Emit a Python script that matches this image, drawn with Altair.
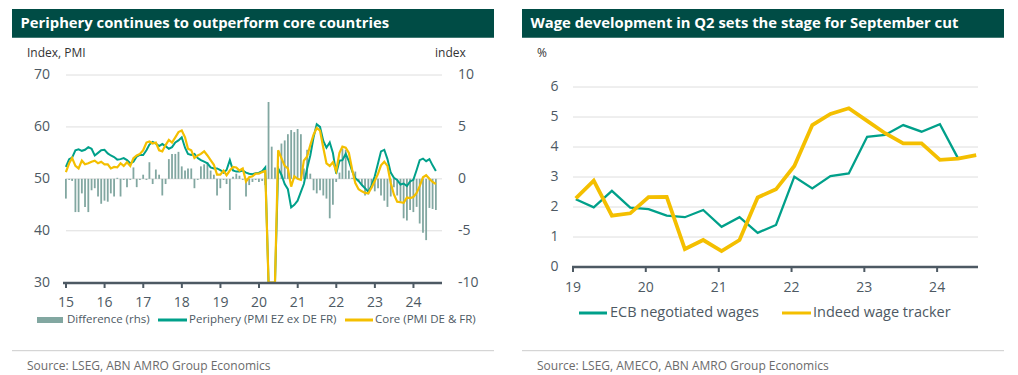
import altair as alt
import pandas as pd

# ---------------- data: left panel (monthly, plotted at month end) ----------------
periphery = [
    52.3, 53.8, 54.1, 55.5, 55.7, 55.4, 55.6, 56.1, 55.8, 54.5, 55.0, 55.5,
    55.6, 54.9, 54.5, 54.2, 53.7, 53.8, 54.0, 53.6, 53.0, 53.3, 54.3, 54.6,
    54.6, 55.5, 56.6, 57.1, 56.8, 56.3, 56.7, 56.3, 55.8, 56.1, 57.0, 57.4,
    58.0, 56.0, 54.8, 54.6, 54.8, 54.0, 53.6, 53.3, 53.0, 52.2, 52.0, 52.0,
    51.7, 51.2, 51.7, 53.6, 51.6, 51.4, 51.4, 51.6, 51.2, 51.0, 50.9, 51.1,
    51.2, 51.5, 52.2, 22.0, 12.0, 29.0, 52.0, 50.8, 49.0, 48.0, 44.5, 45.0,
    45.8, 47.5, 49.0, 52.0, 54.5, 58.0, 60.5, 60.0, 57.3, 56.0, 57.0, 55.0,
    51.0, 53.5, 53.6, 54.8, 53.4, 51.5, 50.1, 49.6, 48.8, 48.2, 47.5, 48.7,
    50.5, 53.0, 55.3, 55.6, 53.8, 51.2, 50.2, 49.8, 48.9, 49.1, 48.6, 49.5,
    49.8, 51.7, 53.6, 53.9, 53.4, 53.8, 52.6, 51.5,
]
core = [
    51.3, 53.0, 54.0, 52.5, 52.0, 53.5, 52.8, 53.0, 53.3, 53.5, 53.0, 53.3,
    52.8, 52.8, 52.0, 52.3, 52.2, 53.0, 52.5, 53.2, 52.5, 54.0, 54.5, 54.8,
    55.5, 57.0, 57.2, 56.8, 57.0, 55.5, 55.3, 56.5, 57.5, 57.0, 58.0, 59.0,
    59.3, 58.0, 55.8, 55.5, 54.0, 54.5, 54.8, 55.3, 54.5, 53.6, 52.7, 50.8,
    50.8, 51.6, 50.7, 51.6, 52.3, 52.2, 51.6, 52.0, 49.5, 50.3, 50.5, 51.0,
    51.0, 51.3, 51.5, 29.5, 14.0, 28.0, 55.5, 54.0, 52.5, 52.0, 48.5, 50.5,
    50.0, 49.8, 53.5, 54.3, 56.5, 58.5, 59.8, 59.3, 56.0, 53.0, 52.5, 53.2,
    51.5, 55.0, 56.2, 56.0, 55.0, 51.8, 49.2, 48.0, 47.6, 47.3, 47.2, 48.3,
    49.6, 51.0, 52.6, 53.3, 52.5, 49.2, 47.0, 45.6, 45.5, 45.4, 46.4, 46.3,
    46.5, 47.3, 48.6, 50.3, 50.7, 50.0, 49.4, 49.0,
]
difference = [
    -1.9, -0.1, -0.2, -3.2, -3.2, -1.4, -2.7, -3.2, -1.1, -0.9, -1.7, -2.4,
    -2.1, -2.2, -1.4, -1.7, 0.1, -1.7, -0.1, -0.8, -0.1, 1.1, -0.8, -0.1,
    0.4, -0.1, 1.6, -0.5, 0.9, 0.4, -1.6, -0.5, 1.9, 2.4, 2.4, 2.6,
    1.2, 0.8, 1.0, 1.0, -0.9, -0.1, 1.2, 1.4, 1.6, 0.8, 0.4, -1.6,
    -0.9, -0.1, -0.5, -3.0, 0.2, 0.5, 0.3, -0.1, -1.7, -0.6, -0.3, -0.1,
    -0.3, -0.2, -0.6, 7.4, 3.1, 1.1, 1.2, 3.4, 3.7, 4.3, 4.7, 4.5,
    4.8, 4.3, 1.0, 2.8, 0.5, -1.1, -1.4, -1.1, -1.6, -1.9, -3.8, -2.5,
    -0.3, 0.6, 2.9, 2.8, 0.8, 0.1, 0.7, -0.3, -0.6, -1.6, -1.5, -0.9,
    -1.2, -0.9, -1.6, -2.1, -2.7, -1.7, -0.8, -1.6, -2.2, -3.8, -4.0, -3.0,
    -3.2, -2.7, -4.3, -5.2, -5.9, -2.8, -2.9, -3.0,
]
pmi_first_month_end = "2014-12-31"
pmi_left_ticks = [30, 40, 50, 60, 70]
pmi_right_ticks = [-10, -5, 0, 5, 10]
pmi_years = list(range(2015, 2025))

# ---------------- data: right panel (quarterly) ----------------
ecb_negotiated = [2.26, 1.99, 2.54, 1.98, 1.93, 1.71, 1.66, 1.90, 1.34, 1.66, 1.14,
                  1.40, 3.01, 2.62, 3.03, 3.12, 4.34, 4.40, 4.73, 4.51, 4.76, 3.62]
indeed_tracker = [2.29, 2.88, 1.71, 1.79, 2.33, 2.34, 0.60, 0.90, 0.53, 0.90, 2.32,
                  2.59, 3.37, 4.73, 5.10, 5.29, 4.87, 4.46, 4.12, 4.12, 3.57, 3.61, 3.73]
wage_first_date = "2019-01-15"
wage_ticks = [0, 1, 2, 3, 4, 5, 6]
wage_years = list(range(2019, 2025))

# ---------------- styling ----------------
TEAL = "#00a08a"
YELLOW = "#f4bf00"
BAR = "#82a7a1"
BANNER = "#004c45"
AXIS = "#4d5963"
GRID = "#dedede"
TXT = "#4d5963"
SRC = "#6b6b6b"
FONT = "Open Sans"

# ---------------- frames ----------------
pmi_dates = pd.date_range(pmi_first_month_end, periods=len(periphery),
                          freq=pd.offsets.MonthEnd()).strftime("%Y-%m-%d")
pmi = pd.DataFrame({"date": pmi_dates, "periphery": periphery, "core": core,
                    "difference": difference})
wage_dates = pd.date_range(wage_first_date, periods=len(indeed_tracker),
                           freq=pd.DateOffset(months=3)).strftime("%Y-%m-%d")
ecb = pd.DataFrame({"date": wage_dates[:len(ecb_negotiated)], "v": ecb_negotiated})
indeed = pd.DataFrame({"date": wage_dates, "v": indeed_tracker})
pmi_year_df = pd.DataFrame({"date": [f"{y}-01-01" for y in pmi_years],
                            "lab": [str(y)[2:] for y in pmi_years]})
wage_year_df = pd.DataFrame({"date": [f"{y}-01-01" for y in wage_years],
                             "lab": [str(y)[2:] for y in wage_years]})
left_tick_df = pd.DataFrame({"v": pmi_left_ticks, "lab": [str(v) for v in pmi_left_ticks]})
right_tick_df = pd.DataFrame({"v": pmi_right_ticks, "lab": [str(v) for v in pmi_right_ticks]})
wage_tick_df = pd.DataFrame({"v": wage_ticks, "lab": [str(v) for v in wage_ticks]})
one = pd.DataFrame({"k": [0]})


def dt(y, m, d):
    return alt.DateTime(year=y, month=m, date=d, utc=True)


xL = alt.Scale(type="utc", domain=[dt(2015, 1, 1), dt(2024, 9, 27)], range=[66, 442], nice=False)
yL = alt.Scale(domain=[30, 70], range=[282.7, 75], clamp=True, nice=False, zero=False)
yR = alt.Scale(domain=[-10, 10], range=[282.7, 75], nice=False, zero=False)
xW = alt.Scale(type="utc", domain=[dt(2019, 1, 1), dt(2024, 7, 24)], range=[573, 978], nice=False)
yW = alt.Scale(domain=[0, 6], range=[267, 87], nice=False, zero=False)


def XD(scale):
    return alt.X("date:T", scale=scale, axis=None)


def box(x1, x2, y1, y2, color):
    return alt.Chart(one).mark_rect(color=color).encode(
        x=alt.value(x1), x2=alt.value(x2), y=alt.value(y1), y2=alt.value(y2))


def hline(x1, x2, y, color, w):
    return alt.Chart(one).mark_rule(color=color, strokeWidth=w).encode(
        x=alt.value(x1), x2=alt.value(x2), y=alt.value(y))


def label(x, y, text, size, color, weight="normal", align="left"):
    return alt.Chart(one).mark_text(align=align, baseline="middle", fontSize=size,
                                    font=FONT, fontWeight=weight, color=color).encode(
        x=alt.value(x), y=alt.value(y), text=alt.value(text))


layers = []

# ---------- left panel ----------
layers += [
    box(12, 494, 9, 37.7, BANNER),
    label(20.5, 24, "Periphery continues to outperform core countries", 14.8, "white", "bold"),
    label(27, 53, "Index, PMI", 12, "#333333"),
    label(435, 53, "index", 12, "#333333"),
    alt.Chart(pd.DataFrame({"v": pmi_left_ticks[1:]})).mark_rule(color=GRID, strokeWidth=1).encode(
        y=alt.Y("v:Q", scale=yL, axis=None), x=alt.value(66), x2=alt.value(442)),
    alt.Chart(pmi).mark_rule(color=BAR, strokeWidth=1.8).encode(
        x=XD(xL), y=alt.Y("difference:Q", scale=yR, axis=None), y2=alt.datum(0)),
    alt.Chart(pmi).mark_line(color=TEAL, strokeWidth=2).encode(
        x=XD(xL), y=alt.Y("periphery:Q", scale=yL, axis=None)),
    alt.Chart(pmi).mark_line(color=YELLOW, strokeWidth=2.2).encode(
        x=XD(xL), y=alt.Y("core:Q", scale=yL, axis=None)),
    hline(63, 442, 283, AXIS, 2.5),
    alt.Chart(pmi_year_df).mark_rule(color=AXIS, strokeWidth=2).encode(
        x=XD(xL), y=alt.value(283), y2=alt.value(288)),
    alt.Chart(pmi_year_df).mark_text(align="center", baseline="middle", fontSize=14,
                                     font=FONT, color=TXT).encode(
        x=XD(xL), y=alt.value(303), text="lab:N"),
    alt.Chart(left_tick_df).mark_text(
        align="right", baseline="middle", fontSize=14, font=FONT, color=TXT).encode(
        y=alt.Y("v:Q", scale=yL, axis=None), x=alt.value(50), text="lab:N"),
    alt.Chart(right_tick_df).mark_text(
        align="left", baseline="middle", fontSize=14, font=FONT, color=TXT).encode(
        y=alt.Y("v:Q", scale=yR, axis=None), x=alt.value(458), text="lab:N"),
    # legend
    box(37, 63, 317, 323, BAR),
    label(67, 320, "Difference (rhs)", 11.5, TXT),
    hline(158, 187, 320, TEAL, 3),
    label(189, 320, "Periphery (PMI EZ ex DE FR)", 11.5, TXT),
    hline(345, 373, 320, YELLOW, 3),
    label(375, 320, "Core (PMI DE & FR)", 11.5, TXT),
    hline(12, 494, 350.7, "#cccccc", 1),
    label(27, 366, "Source: LSEG, ABN AMRO Group Economics", 12, SRC),
]

# ---------- right panel ----------
layers += [
    box(522, 1004, 9, 37.7, BANNER),
    label(530.5, 24, "Wage development in Q2 sets the stage for September cut", 14.8, "white", "bold"),
    label(537, 53, "%", 12, "#333333"),
    alt.Chart(pd.DataFrame({"v": wage_ticks[1:]})).mark_rule(color=GRID, strokeWidth=1).encode(
        y=alt.Y("v:Q", scale=yW, axis=None), x=alt.value(573), x2=alt.value(978)),
    alt.Chart(ecb).mark_line(color=TEAL, strokeWidth=2.3).encode(
        x=XD(xW), y=alt.Y("v:Q", scale=yW, axis=None)),
    alt.Chart(indeed).mark_line(color=YELLOW, strokeWidth=3.8).encode(
        x=XD(xW), y=alt.Y("v:Q", scale=yW, axis=None)),
    hline(572, 978, 267, AXIS, 2.5),
    alt.Chart(wage_year_df).mark_rule(color=AXIS, strokeWidth=2).encode(
        x=XD(xW), y=alt.value(267), y2=alt.value(272)),
    alt.Chart(wage_year_df).mark_text(align="center", baseline="middle", fontSize=14,
                                      font=FONT, color=TXT).encode(
        x=XD(xW), y=alt.value(288), text="lab:N"),
    alt.Chart(wage_tick_df).mark_text(
        align="right", baseline="middle", fontSize=14, font=FONT, color=TXT).encode(
        y=alt.Y("v:Q", scale=yW, axis=None), x=alt.value(558.5), text="lab:N"),
    hline(579, 607, 313, TEAL, 3),
    label(610, 313, "ECB negotiated wages", 14.5, TXT),
    hline(782, 811, 313, YELLOW, 3),
    label(813, 313, "Indeed wage tracker", 14.5, TXT),
    hline(522, 1004, 350.7, "#cccccc", 1),
    label(537, 366, "Source: LSEG, AMECO, ABN AMRO Group Economics", 12, SRC),
]

chart = alt.layer(*layers).resolve_scale(x="independent", y="independent").properties(
    width=1018, height=375, padding=0, background="white",
    autosize=alt.AutoSizeParams(type="none"),
).configure_view(stroke=None)

chart.save("out.html", embed_options={"renderer": "svg", "actions": False})
